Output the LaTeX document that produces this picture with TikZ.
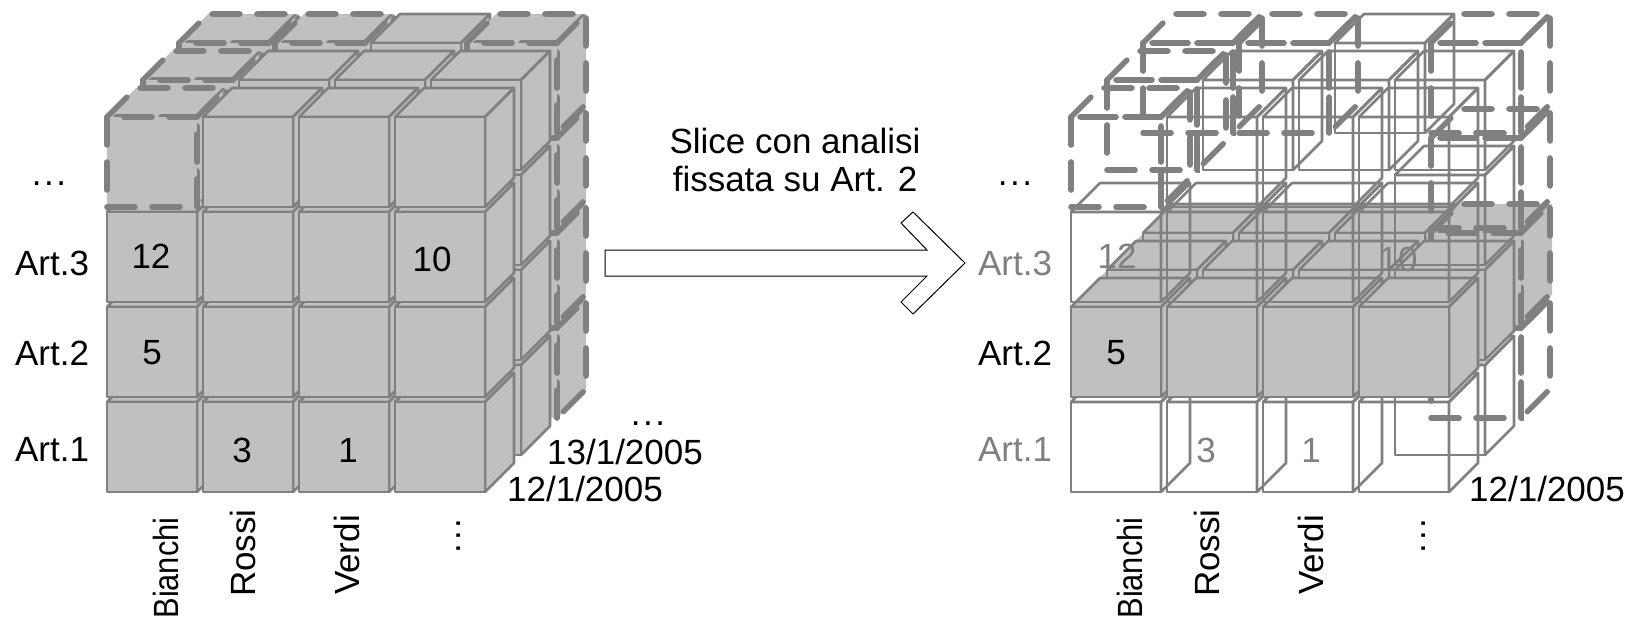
\documentclass[tikz,border=0pt]{standalone}
\usepackage{graphicx}
\usepackage{fontspec}
\setmainfont{Liberation Sans}
\usetikzlibrary{calc}
\definecolor{cubegray}{HTML}{C0C0C0}
\definecolor{edgegray}{HTML}{808080}
\newcommand{\puntini}{.\hspace{1.3pt}.\hspace{1.3pt}.}
\tikzset{
  lbl/.style={font=\fontsize{17.5}{21}\selectfont,inner sep=0pt,anchor=center},
  faded/.style={lbl,text=edgegray},
  plain/.style={draw=edgegray,line width=1.3pt,line join=round},
  dashy/.style={draw=edgegray,line width=2.8pt,line cap=round,dash pattern=on 14pt off 8.5pt},
}
% #1 = x of the front left corner, #2 = y of the top, #3 = edge style, #4 = fill
\newcommand{\cubo}[4]{%
  \path[#3,fill=#4] (#1,#2) -- ++(29,-29) -- ++(90,0) -- ++(-29,29) -- cycle;
  \path[#3,fill=#4] (#1+90,#2) -- ++(29,-29) -- ++(0,90) -- ++(-29,29) -- cycle;
  \path[#3,fill=#4] (#1,#2) rectangle ++(90,90);
}
% layer, column, row (0 = top row)
\newcommand{\cella}[6]{%
  \pgfmathsetmacro{\cx}{#1+96*#4+36*#3}
  \pgfmathsetmacro{\cy}{117+95*#5-37*#3}
  \cubo{\cx}{\cy}{#2}{#6}
}
\begin{document}
\begin{tikzpicture}[x=0.5pt,y=-0.5pt]
\useasboundingbox (0,0) rectangle (1636,621);
% left cube
\foreach \l in {2,1,0} {
  \foreach \r in {3,2,1,0} {
    \foreach \c in {0,1,2,3} {
      \pgfmathtruncatemacro{\keep}{(\l==0)||(\c==3)||(\r==0)||(\r==2)}
      \pgfmathtruncatemacro{\dash}{((\l==2)&&(\c==3))||((\r==0)&&(\c==0))||((\l==2)&&(\r==0)&&(\c==1))}
      \ifnum\keep=1
        \ifnum\dash=1 \cella{107}{dashy}{\l}{\c}{\r}{cubegray}
        \else \cella{107}{plain}{\l}{\c}{\r}{cubegray}\fi
      \fi
    }
  }
}
% right cube, only the row of Art.2 is filled
\fill[cubegray] (1071,307) -- (1172,204) -- (1552,204) -- (1552,294) -- (1449,397) -- (1071,397) -- cycle;
\foreach \l in {2,1,0} {
  \foreach \r in {3,2,1,0} {
    \foreach \c in {0,1,2,3} {
      \pgfmathtruncatemacro{\keep}{(\l==0)||(\c==3)||(\r==0)||(\r==2)}
      \pgfmathtruncatemacro{\dash}{((\l==2)&&(\c==3))||((\r==0)&&(\c==0))||((\l==2)&&(\r==0)&&(\c==1))}
      \ifnum\r=2 \def\tinta{cubegray}\else \def\tinta{none}\fi
      \ifnum\keep=1
        \ifnum\dash=1 \cella{1071}{dashy}{\l}{\c}{\r}{\tinta}
        \else \cella{1071}{plain}{\l}{\c}{\r}{\tinta}\fi
      \fi
    }
  }
}
% arrow
\draw[black,line width=0.5pt,fill=white] (605,250) -- (927,250) -- (901,223) -- (913,212) -- (965,263) -- (913,314) -- (901,302) -- (927,276) -- (605,276) -- cycle;
\node[lbl,align=center] (slice) at (795,160) {Slice con analisi\\[-2pt]fissata su Art. 2};
% labels left
\node[lbl] (dotsa) at (49,184) {\puntini};
\node[lbl] (art3a) at (52,263) {Art.3};
\node[lbl] (art2a) at (52,353) {Art.2};
\node[lbl] (art1a) at (52,450) {Art.1};
\node[lbl] (n12a) at (151,256) {12};
\node[lbl] (n10a) at (432,259) {10};
\node[lbl] (n5a) at (152,353) {5};
\node[lbl] (n3a) at (242,450) {3};
\node[lbl] (n1a) at (348,450) {1};
\node[lbl] (d12a) at (585,489) {12/1/2005};
\node[lbl] (d13a) at (625,452) {13/1/2005};
\node[lbl] (dotsd) at (648,424) {\puntini};
\node[lbl,rotate=90] (biancha) at (166,568) {\scalebox{.88}[1]{Bianchi}};
\node[lbl,rotate=90] (rossia) at (243,553) {Rossi};
\node[lbl,rotate=90] (verdia) at (347,555) {Verdi};
\node[lbl,rotate=90] (dotsn) at (459,536) {\puntini};
% labels right
\node[lbl] (dotsb) at (1015,184) {\puntini};
\node[faded] (art3b) at (1015,263) {Art.3};
\node[lbl] (art2b) at (1015,353) {Art.2};
\node[faded] (art1b) at (1015,450) {Art.1};
\node[faded] (n12b) at (1117,256) {12};
\node[faded] (n10b) at (1398,259) {10};
\node[lbl] (n5b) at (1116,353) {5};
\node[faded] (n3b) at (1206,450) {3};
\node[faded] (n1b) at (1311,450) {1};
\node[lbl] (d12b) at (1547,489) {12/1/2005};
\node[lbl,rotate=90] (bianchb) at (1130,568) {\scalebox{.88}[1]{Bianchi}};
\node[lbl,rotate=90] (rossib) at (1207,553) {Rossi};
\node[lbl,rotate=90] (verdib) at (1311,555) {Verdi};
\node[lbl,rotate=90] (dotso) at (1424,536) {\puntini};
\end{tikzpicture}
\end{document}
